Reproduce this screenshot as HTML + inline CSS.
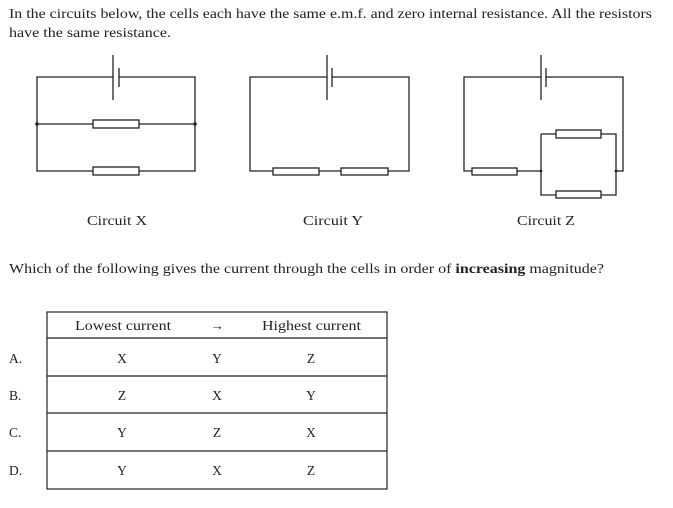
<!DOCTYPE html>
<html><head><meta charset="utf-8"><style>
html,body{margin:0;padding:0;background:#fff;}
svg{display:block;}
text{font-family:"Liberation Serif",serif;fill:#222;}
</style></head><body>
<svg width="673" height="508" viewBox="0 0 673 508" xmlns="http://www.w3.org/2000/svg">
<g font-size="13.5">
<text x="9" y="18" textLength="643" lengthAdjust="spacingAndGlyphs">In the circuits below, the cells each have the same e.m.f. and zero internal resistance.  All the resistors</text>
<text x="9" y="37" textLength="162" lengthAdjust="spacingAndGlyphs">have the same resistance.</text>
<text x="87" y="225" textLength="60" lengthAdjust="spacingAndGlyphs">Circuit X</text>
<text x="303" y="225" textLength="60" lengthAdjust="spacingAndGlyphs">Circuit Y</text>
<text x="517" y="225" textLength="58" lengthAdjust="spacingAndGlyphs">Circuit Z</text>
<text x="9" y="273" textLength="595" lengthAdjust="spacingAndGlyphs">Which of the following gives the current through the cells in order of <tspan font-weight="bold">increasing</tspan> magnitude?</text>
</g>
<g stroke="#222" stroke-width="1.3" fill="none">
<!-- Circuit X -->
<path d="M113 77H37V171H93M139 171H195V77H119"/>
<path d="M37 124H93M139 124H195"/>
<rect x="93" y="120" width="46" height="8" fill="#fff"/>
<rect x="93" y="167" width="46" height="8" fill="#fff"/>
<path d="M113 55V100M119 68V87"/>
<!-- Circuit Y -->
<path d="M327 77H250V171H273M319 171H341M388 171H409V77H332"/>
<rect x="273" y="168" width="46" height="7" fill="#fff"/>
<rect x="341" y="168" width="47" height="7" fill="#fff"/>
<path d="M327 55V100M332 68V87"/>
<!-- Circuit Z -->
<path d="M541 77H464V171H472M517 171H541M616 171H623V77H546"/>
<rect x="472" y="168" width="45" height="7" fill="#fff"/>
<path d="M541 134V195H556M601 195H616V134H601M556 134H541"/>
<rect x="556" y="130" width="45" height="8" fill="#fff"/>
<rect x="556" y="191" width="45" height="7" fill="#fff"/>
<path d="M541 55V100M546 68V87"/>
</g>
<circle cx="37" cy="124" r="1.8" fill="#222"/>
<circle cx="195" cy="124" r="1.8" fill="#222"/>
<circle cx="541" cy="171" r="1.4" fill="#222"/>
<circle cx="616" cy="171" r="1.4" fill="#222"/>
<!-- Table -->
<g stroke="#222" stroke-width="1.2" fill="none">
<rect x="47" y="312" width="340" height="177"/>
<path d="M47 338H387M47 376H387M47 413H387M47 451H387"/>
</g>
<g font-size="13.5">
<text x="75" y="330" textLength="96" lengthAdjust="spacingAndGlyphs">Lowest current</text>
<text x="217" y="330" text-anchor="middle">→</text>
<text x="262" y="330" textLength="99" lengthAdjust="spacingAndGlyphs">Highest current</text>
<text x="9" y="363">A.</text><text x="9" y="400">B.</text><text x="9" y="437">C.</text><text x="9" y="475">D.</text>
<g text-anchor="middle">
<text x="122" y="363">X</text><text x="217" y="363">Y</text><text x="311" y="363">Z</text>
<text x="122" y="400">Z</text><text x="217" y="400">X</text><text x="311" y="400">Y</text>
<text x="122" y="437">Y</text><text x="217" y="437">Z</text><text x="311" y="437">X</text>
<text x="122" y="475">Y</text><text x="217" y="475">X</text><text x="311" y="475">Z</text>
</g>
</g>
</svg>
</body></html>
